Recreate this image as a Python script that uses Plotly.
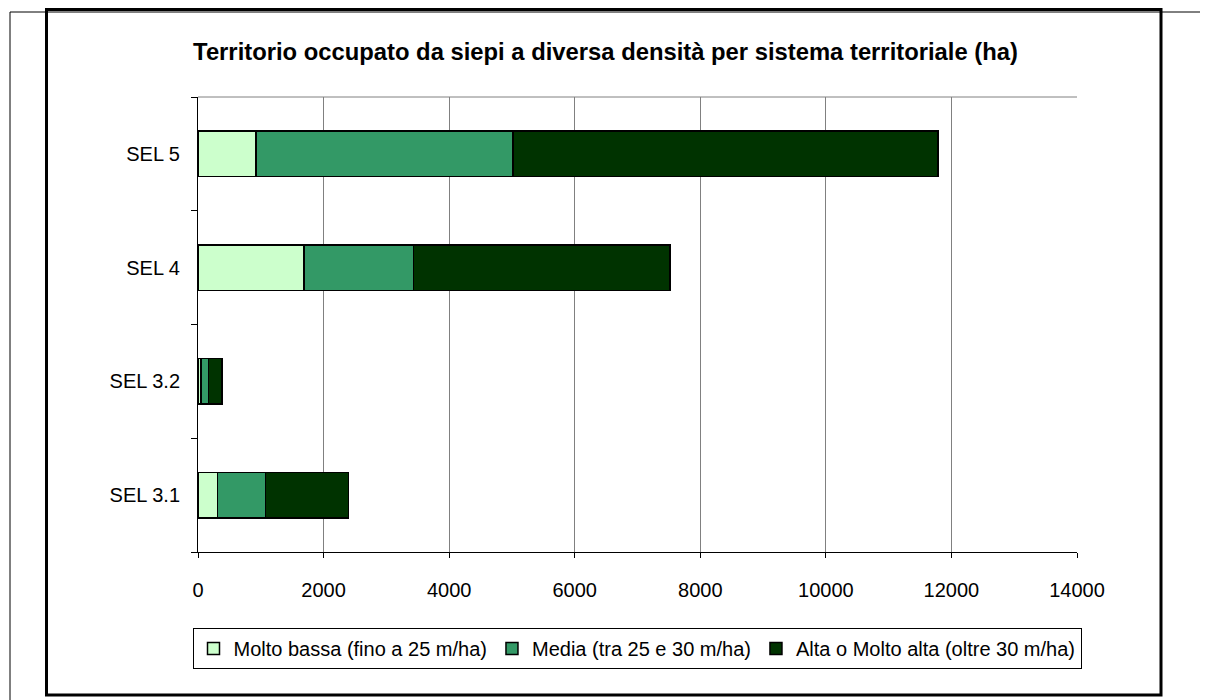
import plotly.graph_objects as go

# Data (ha)
SISTEMI = ['SEL 3.1', 'SEL 3.2', 'SEL 4', 'SEL 5']
MOLTO_BASSA = [308, 48, 1690, 925]
MEDIA = [770, 116, 1740, 4095]
ALTA = [1316, 218, 4090, 6765]

SERIE = [
    ('Molto bassa (fino a 25 m/ha)', MOLTO_BASSA, '#CCFFCC'),
    ('Media (tra 25 e 30 m/ha)', MEDIA, '#339966'),
    ('Alta o Molto alta (oltre 30 m/ha)', ALTA, '#003300'),
]
X_TICKS = [0, 2000, 4000, 6000, 8000, 10000, 12000, 14000]

# the page body has an 8px margin, so work in screen pixels and shift
OFF = 8
W, H = 1208 - OFF, 700 - OFF
L, R, T, B = 198, 1077, 97, 552   # plot area, screen pixels
FONT = 'Liberation Sans, Arial, sans-serif'


def px(x):
    return (x - L) / (R - L)


def py(y):
    return (B - y) / (B - T)


def cx(x):
    return (x - OFF) / W


def cy(y):
    return 1 - (y - OFF) / H


fig = go.Figure()
for name, vals, col in SERIE:
    fig.add_trace(go.Bar(
        y=SISTEMI, x=vals, name=name, orientation='h',
        marker=dict(color=col, line=dict(color='black', width=1.5)),
        width=0.4,
    ))

# frame lines around the chart (page/table borders)
shapes = [
    dict(type='line', x0=px(10), x1=px(1210), y0=py(12), y1=py(12),
         line=dict(color='black', width=1)),
    dict(type='line', x0=px(10), x1=px(10), y0=py(12), y1=py(710),
         line=dict(color='black', width=1)),
    dict(type='rect', x0=px(46.5), x1=px(1161), y0=py(9.5), y1=py(695),
         line=dict(color='black', width=3)),
    # gray top border of plot area
    dict(type='line', x0=0, x1=1, y0=1, y1=1,
         line=dict(color='#808080', width=1)),
]
for s in shapes:
    s.update(xref='paper', yref='paper', layer='above')

fig.update_layout(
    width=W, height=H,
    margin=dict(l=L - OFF, r=W - (R - OFF), t=T - OFF, b=H - (B - OFF)),
    paper_bgcolor='white', plot_bgcolor='white',
    barmode='stack',
    font=dict(family=FONT, size=20, color='black'),
    title=dict(
        text='<b>Territorio occupato da siepi a diversa densità per sistema territoriale (ha)</b>',
        xref='container', x=cx(605.5), xanchor='center',
        yref='container', y=cy(52), yanchor='middle',
        font=dict(size=23.8),
    ),
    xaxis=dict(
        range=[0, 14000], tickvals=X_TICKS, ticktext=[str(v) for v in X_TICKS],
        showgrid=True, gridcolor='#808080', gridwidth=1,
        showline=True, linecolor='black', linewidth=1,
        ticks='outside', ticklen=5, tickcolor='black',
        zeroline=False, ticklabelstandoff=15,
    ),
    yaxis=dict(
        categoryorder='array', categoryarray=SISTEMI,
        showline=True, linecolor='black', linewidth=1,
        ticks='outside', ticklen=6, tickcolor='black', tickson='boundaries',
        showgrid=False, ticklabelstandoff=13,
    ),
    # anchored right of the plot area so plotly allows a wider single row
    legend=dict(
        orientation='h', xref='paper', x=px(1081.5), xanchor='right',
        yref='paper', y=py(628), yanchor='top',
        bordercolor='black', borderwidth=1, bgcolor='white',
        font=dict(size=20), itemwidth=30, traceorder='normal',
    ),
    shapes=shapes,
    showlegend=True,
)

fig.write_html('out.html')
